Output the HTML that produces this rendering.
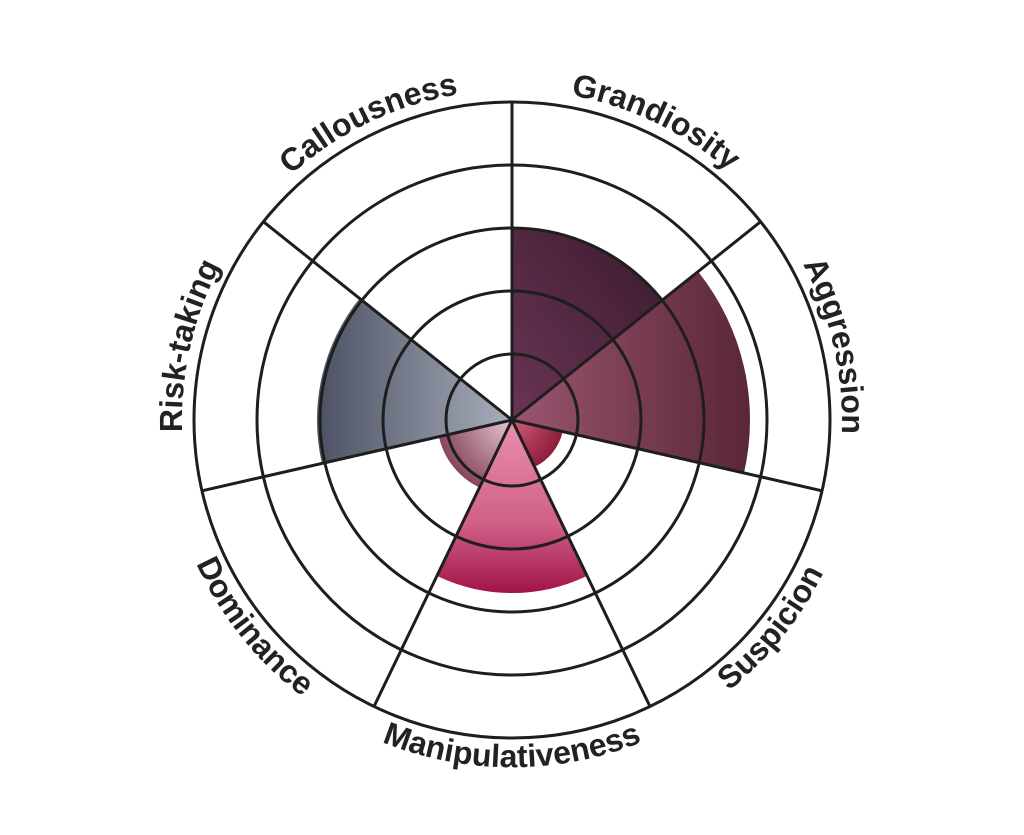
<!DOCTYPE html>
<html><head><meta charset="utf-8"><style>
html,body{margin:0;padding:0;background:#fff;}
svg{display:block;}
text{font-family:"Liberation Sans",sans-serif;font-weight:bold;font-size:32px;fill:#222;}
</style></head><body>
<svg width="1024" height="835" viewBox="0 0 1024 835" xmlns="http://www.w3.org/2000/svg">
<defs>
<linearGradient id="gG" x1="0" y1="1" x2="1" y2="0"><stop offset="0" stop-color="#6a3556"/><stop offset="1" stop-color="#3a1a2c"/></linearGradient>
<linearGradient id="gA" x1="0" y1="0.5" x2="1" y2="0.5"><stop offset="0" stop-color="#9a5670"/><stop offset="1" stop-color="#5a2638"/></linearGradient>
<linearGradient id="gM" x1="0" y1="0" x2="0" y2="1"><stop offset="0" stop-color="#e890b0"/><stop offset="0.6" stop-color="#d06088"/><stop offset="1" stop-color="#a01448"/></linearGradient>
<linearGradient id="gR" x1="1" y1="0.5" x2="0" y2="0.5"><stop offset="0" stop-color="#a8aebb"/><stop offset="1" stop-color="#4c5263"/></linearGradient>
<radialGradient id="gS" cx="512" cy="420" r="55" gradientUnits="userSpaceOnUse"><stop offset="0" stop-color="#d06078"/><stop offset="1" stop-color="#8a1838"/></radialGradient>
<radialGradient id="gD" cx="512" cy="420" r="78" gradientUnits="userSpaceOnUse"><stop offset="0" stop-color="#e8c8d2"/><stop offset="1" stop-color="#84405a"/></radialGradient>
<path id="pG" d="M402.9,108.5 A330,330 0 0 1 823.5,310.9"/>
<path id="pC" d="M200.5,310.9 A330,330 0 0 1 621.1,108.5"/>
<path id="pR" d="M232.5,595.4 A330,330 0 0 1 336.6,140.5"/>
<path id="pA" d="M687.4,140.5 A330,330 0 0 1 791.5,595.4"/>
<path id="pM" d="M266.5,665.5 A347,347 0 0 0 757.5,665.5"/>
<path id="pS" d="M550.6,764.9 A347,347 0 0 0 856.8,382.3"/>
<path id="pD" d="M167.2,382.3 A347,347 0 0 0 473.4,764.9"/>
</defs>
<path d="M512,420 L512,228 A192,192 0 0 1 662.1,300.3 Z" fill="url(#gG)"/>
<path d="M512,420 L698.1,271.6 A238,238 0 0 1 744.0,473.0 Z" fill="url(#gA)"/>
<path d="M512,420 L562.7,431.6 A52,52 0 0 1 534.6,466.9 Z" fill="url(#gS)"/>
<path d="M512,420 L587.1,575.9 A173,173 0 0 1 436.9,575.9 Z" fill="url(#gM)"/>
<path d="M512,420 L479.5,487.6 A75,75 0 0 1 438.9,436.7 Z" fill="url(#gD)"/>
<path d="M512,420 L321.9,463.4 A195,195 0 0 1 359.5,298.4 Z" fill="url(#gR)"/>
<g fill="none" stroke="#1e1e1e" stroke-width="3">
<circle cx="512" cy="420" r="66"/>
<circle cx="512" cy="420" r="129"/>
<circle cx="512" cy="420" r="192"/>
<circle cx="512" cy="420" r="255"/>
<circle cx="512" cy="420" r="318"/>
<line x1="512" y1="420" x2="512" y2="102"/>
<line x1="512" y1="420" x2="760.6" y2="221.7"/>
<line x1="512" y1="420" x2="822.0" y2="490.8"/>
<line x1="512" y1="420" x2="650.0" y2="706.5"/>
<line x1="512" y1="420" x2="374.0" y2="706.5"/>
<line x1="512" y1="420" x2="202.0" y2="490.8"/>
<line x1="512" y1="420" x2="263.4" y2="221.7"/>
</g>
<text><textPath href="#pG" startOffset="50%" text-anchor="middle">Grandiosity</textPath></text>
<text><textPath href="#pC" startOffset="50%" text-anchor="middle">Callousness</textPath></text>
<text><textPath href="#pR" startOffset="50%" text-anchor="middle">Risk-taking</textPath></text>
<text><textPath href="#pA" startOffset="50%" text-anchor="middle">Aggression</textPath></text>
<text><textPath href="#pM" startOffset="50%" text-anchor="middle">Manipulativeness</textPath></text>
<text><textPath href="#pS" startOffset="50%" text-anchor="middle">Suspicion</textPath></text>
<text><textPath href="#pD" startOffset="50%" text-anchor="middle">Dominance</textPath></text>
</svg>
</body></html>
